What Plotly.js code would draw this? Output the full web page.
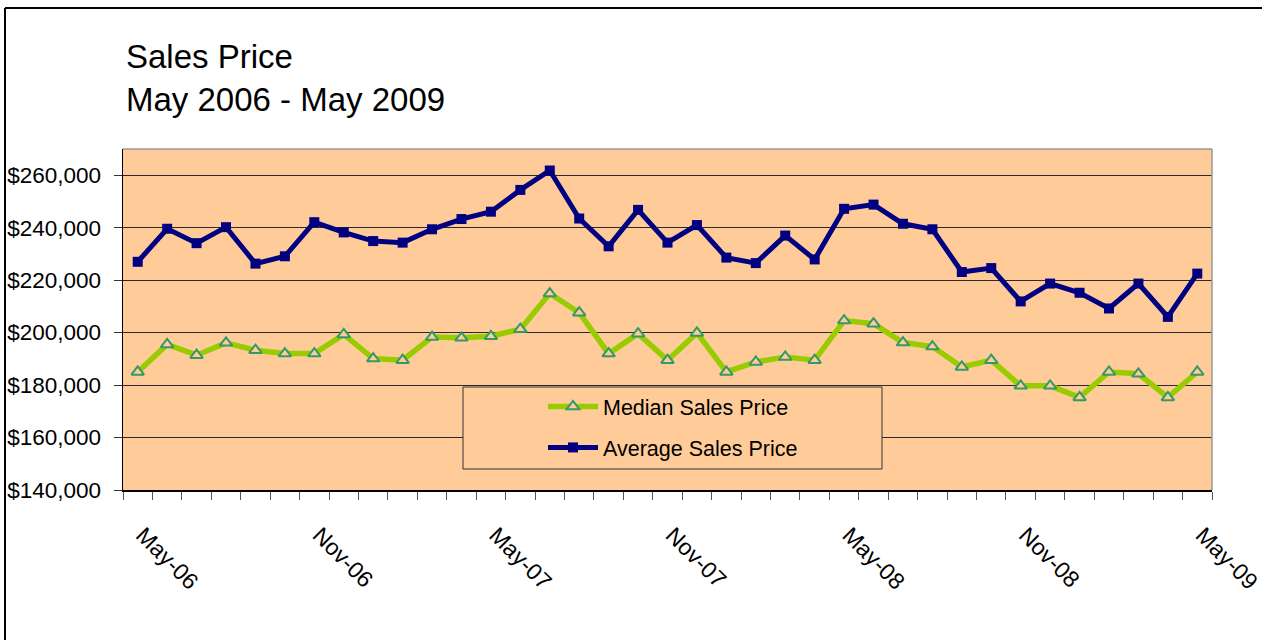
<!DOCTYPE html>
<html>
<head>
<meta charset="utf-8">
<script src="https://cdn.plot.ly/plotly-3.0.1.min.js"></script>
<style>
  html, body { margin: 0; padding: 0; background: #ffffff; }
  #chart { width: 1262px; height: 640px; }
</style>
</head>
<body>
<div id="chart"></div>
<script>
const months = ['May-06','Jun-06','Jul-06','Aug-06','Sep-06','Oct-06','Nov-06','Dec-06',
  'Jan-07','Feb-07','Mar-07','Apr-07','May-07','Jun-07','Jul-07','Aug-07','Sep-07','Oct-07','Nov-07','Dec-07',
  'Jan-08','Feb-08','Mar-08','Apr-08','May-08','Jun-08','Jul-08','Aug-08','Sep-08','Oct-08','Nov-08','Dec-08',
  'Jan-09','Feb-09','Mar-09','Apr-09','May-09'];

const medianSalesPrice = [185000, 195500, 191400, 196100, 193300, 192000, 192000, 199300, 190100, 189500,
  198300, 198000, 198600, 201300, 214900, 207600, 192000, 199600, 189500, 199900,
  185000, 188800, 190700, 189500, 204600, 203400, 196200, 194700, 186900, 189500,
  179700, 179700, 175300, 185000, 184300, 175300, 185000];

const averageSalesPrice = [227000, 239600, 234100, 240200, 226300, 229100, 242100, 238200, 234900, 234300,
  239400, 243300, 246100, 254400, 261800, 243500, 232900, 246800, 234300, 241000,
  228600, 226500, 237000, 227900, 247200, 248800, 241500, 239400, 223100, 224600,
  211900, 218700, 215200, 209200, 218700, 206000, 222500];

const labelEvery = 6;

const xIdx = months.map((m, i) => i);
const tickVals = xIdx.filter(i => i % labelEvery === 0);
const tickText = tickVals.map(i => months[i]);

const FONT = '"Liberation Sans", Arial, sans-serif';

const traces = [
  {
    name: 'Median Sales Price',
    x: xIdx, y: medianSalesPrice, text: months,
    type: 'scatter', mode: 'lines+markers',
    legendgroup: 'a',
    line: { color: '#99CC00', width: 5.5 },
    marker: { symbol: 'triangle-up', size: 11, color: '#FFCC99', line: { color: '#339966', width: 2 } }
  },
  {
    name: 'Average Sales Price',
    x: xIdx, y: averageSalesPrice, text: months,
    type: 'scatter', mode: 'lines+markers',
    legendgroup: 'b',
    line: { color: '#000080', width: 5 },
    marker: { symbol: 'square', size: 10, color: '#000080' }
  }
];

const layout = {
  width: 1262, height: 640,
  paper_bgcolor: '#ffffff',
  plot_bgcolor: '#FFCC99',
  margin: { l: 123, r: 50, t: 149, b: 150 },
  font: { family: FONT, color: '#000000', size: 22 },
  title: {
    text: 'Sales Price<br>May 2006 - May 2009',
    font: { family: FONT, size: 33, color: '#000000' },
    xref: 'container', x: 126 / 1262, xanchor: 'left',
    yref: 'container', y: 1 - 68 / 640, yanchor: 'top'
  },
  xaxis: {
    range: [-0.5, 36.5],
    tickmode: 'array', tickvals: tickVals, ticktext: tickText,
    ticks: '', tickangle: 45,
    ticklabelstandoff: 21,
    ticklabelshift: 5,
    ticklabeloverflow: 'allow',
    tickfont: { family: FONT, size: 23, color: '#000000' },
    showgrid: false, zeroline: false,
    showline: true, linecolor: '#000000', linewidth: 1.5,
    minor: { tick0: -0.5, dtick: 1, ticks: 'outside', ticklen: 8, tickcolor: '#555555', tickwidth: 1, showgrid: false }
  },
  yaxis: {
    range: [140000, 270000],
    tick0: 140000, dtick: 20000,
    tickformat: '$,.0f',
    ticks: 'outside', ticklen: 8, tickcolor: '#333333',
    ticklabelstandoff: 8,
    tickfont: { family: FONT, size: 22.5, color: '#000000' },
    showgrid: true, gridcolor: '#2a2a2a', gridwidth: 1,
    zeroline: false,
    showline: true, linecolor: '#000000', linewidth: 1.5
  },
  showlegend: true,
  legend: {
    x: (543 - 123) / 1089, xanchor: 'left',
    y: (490 - 386) / 341, yanchor: 'top',
    bgcolor: 'rgba(0,0,0,0)', borderwidth: 0,
    font: { family: FONT, size: 21.5, color: '#000000' },
    traceorder: 'grouped', tracegroupgap: 10,
    itemwidth: 50
  },
  shapes: [
    // legend frame
    { type: 'rect', xref: 'paper', yref: 'paper', layer: 'above',
      x0: (463 - 123) / 1089, x1: (882 - 123) / 1089,
      y0: (490 - 469) / 341, y1: (490 - 387) / 341,
      fillcolor: '#FFCC99', line: { color: '#333333', width: 1 } },
    // plot frame top / right (gray)
    { type: 'line', xref: 'paper', yref: 'paper', layer: 'above',
      x0: 0, x1: 1, y0: 1, y1: 1, line: { color: '#999999', width: 1.5 } },
    { type: 'line', xref: 'paper', yref: 'paper', layer: 'above',
      x0: 1, x1: 1, y0: 0, y1: 1, line: { color: '#999999', width: 1.5 } },
    // outer chart border (left / top)
    { type: 'line', xref: 'paper', yref: 'paper', layer: 'above',
      x0: (5 - 123) / 1089, x1: (5 - 123) / 1089, y0: (490 - 660) / 341, y1: (490 - 8) / 341,
      line: { color: '#000000', width: 2 } },
    { type: 'line', xref: 'paper', yref: 'paper', layer: 'above',
      x0: (5 - 123) / 1089, x1: (1280 - 123) / 1089, y0: (490 - 8) / 341, y1: (490 - 8) / 341,
      line: { color: '#000000', width: 2 } }
  ]
};

Plotly.newPlot('chart', traces, layout, { displayModeBar: false, staticPlot: true });
</script>
</body>
</html>
